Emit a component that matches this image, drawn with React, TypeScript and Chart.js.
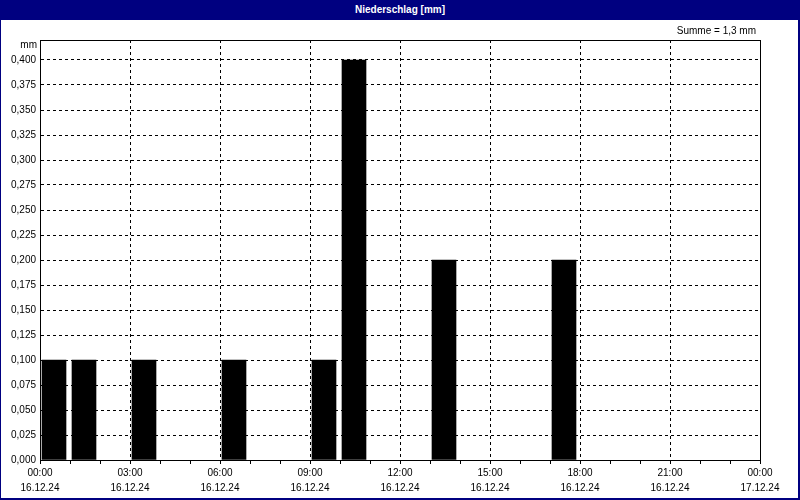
import React, { useEffect, useRef } from "react";
import { Chart, registerables } from "chart.js";

Chart.register(...registerables);

// Hourly precipitation (mm) for 16.12.24, hours 00..23
const hours: number[] = [0, 1, 2, 3, 4, 5, 6, 7, 8, 9, 10, 11, 12, 13, 14, 15, 16, 17, 18, 19, 20, 21, 22, 23];
const precip: number[] = [0.1, 0.1, 0, 0.1, 0, 0, 0.1, 0, 0, 0.1, 0.4, 0, 0, 0.2, 0, 0, 0, 0.2, 0, 0, 0, 0, 0, 0];

// x tick labels every 3 hours
const tickHours: number[] = [0, 3, 6, 9, 12, 15, 18, 21, 24];
const tickTimes: string[] = ["00:00", "03:00", "06:00", "09:00", "12:00", "15:00", "18:00", "21:00", "00:00"];
const tickDates: string[] = ["16.12.24", "16.12.24", "16.12.24", "16.12.24", "16.12.24", "16.12.24", "16.12.24", "16.12.24", "17.12.24"];

const titleText = "Niederschlag [mm]";
const unitText = "mm";
const sumText = "Summe = 1,3 mm";

const NAVY = "#000080";
const FONT = "'Liberation Sans', Arial, sans-serif";
const BAR_POS = 14 / 30; // bar centre within the hour slot

export default function App() {
  const ref = useRef<HTMLCanvasElement | null>(null);

  useEffect(() => {
    if (!ref.current) return;
    const framePlugin = {
      id: "frame",
      afterDraw(chart: any) {
        const { ctx, chartArea } = chart;
        ctx.save();
        ctx.strokeStyle = "#000";
        ctx.lineWidth = 1;
        ctx.strokeRect(chartArea.left + 0.5, chartArea.top + 0.5, chartArea.right - chartArea.left, chartArea.bottom - chartArea.top);
        ctx.fillStyle = "#000";
        ctx.font = `10px ${FONT}`;
        ctx.textBaseline = "middle";
        ctx.textAlign = "right";
        ctx.fillText(unitText, 37, 45);
        ctx.fillText(sumText, 756, 31);
        ctx.restore();
      },
    };

    const points = hours
      .map((h, i) => ({ x: h + BAR_POS, y: precip[i] }))
      .filter((p) => p.y > 0);

    const chart = new Chart(ref.current, {
      type: "bar",
      data: {
        datasets: [
          {
            data: points,
            backgroundColor: "#000",
            borderWidth: 0,
            barThickness: 24,
          },
        ],
      },
      options: {
        responsive: false,
        animation: false,
        layout: { padding: { left: 0, top: 40, right: 40, bottom: 0 } },
        plugins: {
          legend: { display: false },
          title: { display: false },
          tooltip: { enabled: false },
        },
        scales: {
          x: {
            type: "linear",
            min: 0,
            max: 24,
            offset: false,
            afterFit(scale: any) {
              scale.height = 40;
            },
            afterBuildTicks(scale: any) {
              scale.ticks = [];
              for (let v = 0; v <= 24; v++) scale.ticks.push({ value: v });
            },
            ticks: {
              autoSkip: false,
              maxRotation: 0,
              minRotation: 0,
              padding: 2,
              color: "#000",
              font: { family: FONT, size: 10, lineHeight: 1.45 },
              callback: (v: any) => {
                const idx = tickHours.indexOf(Number(v));
                return idx >= 0 ? [tickTimes[idx], tickDates[idx]] : "";
              },
            },
            grid: {
              offset: false,
              color: (c: any) => (c.tick && tickHours.indexOf(c.tick.value) >= 0 ? "#000" : "rgba(0,0,0,0)"),
              tickColor: "#000",
              tickLength: 4,
              lineWidth: 1,
            },
            border: { display: true, color: "#000", width: 1, dash: [3, 3] },
          },
          y: {
            min: 0,
            max: 0.42,
            afterFit(scale: any) {
              scale.width = 40;
            },
            ticks: {
              stepSize: 0.025,
              includeBounds: false,
              padding: 4,
              color: "#000",
              font: { family: FONT, size: 10 },
              callback: (v: any) => Number(v).toFixed(3).replace(".", ","),
            },
            grid: {
              color: "#000",
              drawTicks: false,
              lineWidth: 1,
            },
            border: { display: true, color: "#000", width: 1, dash: [3, 3] },
          },
        },
      },
      plugins: [framePlugin],
    });
    return () => chart.destroy();
  }, []);

  return (
    <div style={{ position: "fixed", left: 0, top: 0, width: 800, height: 500, background: "#fff", overflow: "hidden" }}>
      <div
        style={{
          position: "absolute",
          left: 0,
          top: 0,
          width: 800,
          height: 500,
          boxSizing: "border-box",
          borderLeft: `1px solid ${NAVY}`,
          borderRight: `2px solid ${NAVY}`,
          borderBottom: `2px solid ${NAVY}`,
        }}
      />
      <div
        style={{
          position: "absolute",
          left: 0,
          top: 0,
          width: 800,
          height: 20,
          background: NAVY,
          color: "#fff",
          fontFamily: FONT,
          fontWeight: "bold",
          fontSize: 10,
          lineHeight: "19px",
          textAlign: "center",
        }}
      >
        {titleText}
      </div>
      <canvas ref={ref} width={800} height={500} style={{ position: "absolute", left: 0, top: 0, width: 800, height: 500 }} />
    </div>
  );
}
